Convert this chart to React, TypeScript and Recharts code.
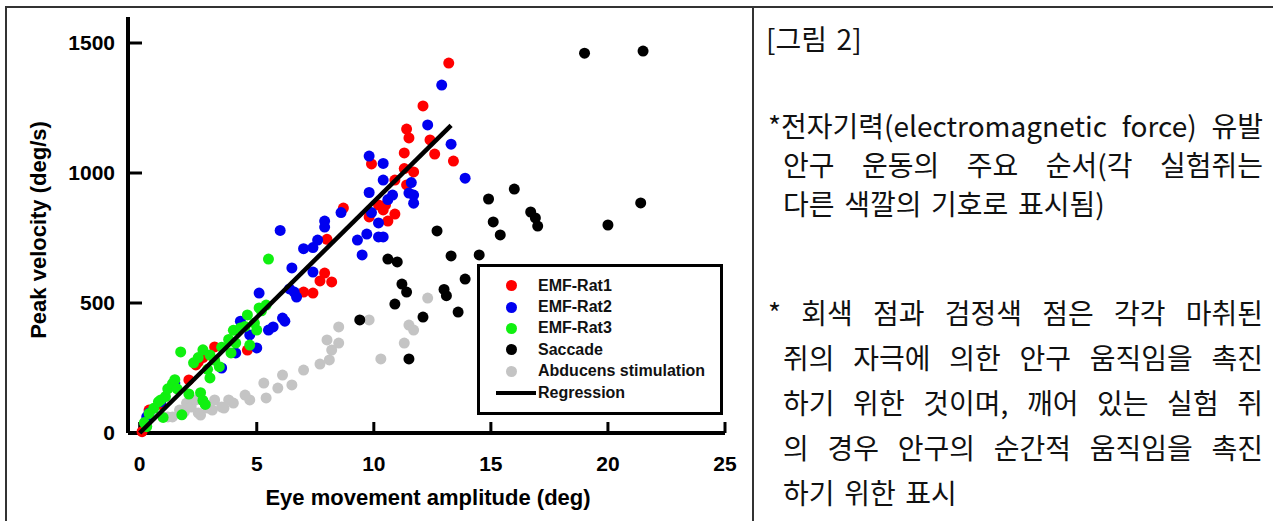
import React from "react";
import { ScatterChart, Scatter, XAxis, YAxis, Legend } from "recharts";

type Pt = { x: number; y: number };
const toPts = (rows: number[][]): Pt[] => rows.map(([x, y]) => ({ x, y }));

// values: [amplitude (deg), peak velocity (deg/s)]
const rat1 = toPts([
  [0.1, 5], [0.4, 88], [0.9, 110], [2.1, 204], [2.4, 262], [2.5, 273], [2.7, 290], [3.2, 331],
  [4.6, 319], [7.0, 542], [7.4, 538], [7.7, 585], [7.9, 615], [8.2, 581], [8.0, 745], [8.7, 865],
  [9.8, 831], [9.9, 1035], [10.2, 877], [10.4, 858], [10.5, 877], [10.6, 815], [10.9, 842],
  [10.9, 973], [11.3, 1077], [11.4, 1169], [11.3, 1017], [11.5, 1135], [11.4, 954], [11.7, 1004],
  [12.1, 1258], [12.4, 1127], [12.6, 1073], [13.2, 1423], [13.4, 1046],
]);

const rat2 = toPts([
  [0.3, 62], [0.4, 77], [0.9, 120], [1.5, 192], [3.5, 250], [4.1, 308], [4.3, 430], [4.7, 377],
  [5.0, 327], [5.1, 538], [5.5, 396], [5.7, 408], [6.1, 442], [6.2, 430], [6.4, 554], [6.5, 635],
  [6.6, 542], [6.7, 523], [6.0, 779], [7.0, 709], [7.4, 713], [7.4, 619], [7.6, 742], [7.9, 815],
  [7.9, 792], [8.6, 848], [9.3, 742], [9.5, 685], [9.7, 765], [9.8, 925], [9.8, 1065], [9.9, 848],
  [10.2, 754], [10.2, 808], [10.4, 754], [10.4, 1037], [10.4, 973], [10.6, 898], [10.8, 915],
  [11.6, 963], [11.5, 923], [11.7, 915], [11.7, 884], [12.3, 1185], [12.9, 1338], [13.3, 1111],
  [13.9, 980],
]);

const rat3 = toPts([
  [0.2, 40], [0.3, 25], [0.4, 75], [0.6, 95], [0.8, 120], [0.9, 127], [1.0, 60], [1.1, 140],
  [1.2, 170], [1.4, 190], [1.5, 205], [1.6, 170], [1.75, 312], [1.8, 70], [2.1, 150], [2.3, 270],
  [2.5, 290], [2.6, 155], [2.7, 125], [2.7, 320], [2.8, 110], [2.9, 245], [3.0, 212], [3.0, 300],
  [3.2, 280], [3.4, 255], [3.5, 330], [3.8, 360], [3.9, 308], [4.0, 395], [4.1, 346], [4.3, 404],
  [4.5, 410], [4.6, 454], [4.7, 338], [4.9, 423], [5.0, 396], [5.1, 481], [5.2, 470], [5.4, 492],
  [5.5, 669],
]);

const saccade = toPts([
  [9.4, 435], [10.6, 669], [11.0, 658], [11.2, 573], [11.4, 542], [10.9, 496], [11.5, 285],
  [12.1, 446], [12.7, 777], [13.0, 552], [13.1, 528], [13.3, 681], [13.6, 465], [13.9, 592],
  [14.5, 685], [14.9, 900], [15.1, 812], [15.4, 762], [16.0, 938], [16.7, 850], [16.9, 827],
  [17.0, 796], [19.0, 1461], [20.0, 800], [21.4, 885], [21.5, 1469],
]);

const abducens = toPts([
  [1.2, 62], [1.4, 62], [1.7, 88], [1.9, 80], [2.0, 115], [2.2, 100], [2.4, 127], [2.5, 77],
  [2.6, 69], [2.9, 96], [3.1, 88], [3.2, 127], [3.5, 100], [3.6, 96], [3.8, 127], [4.0, 115],
  [4.5, 146], [4.7, 127], [5.3, 192], [5.4, 135], [5.9, 173], [6.1, 223], [6.5, 185], [7.0, 242],
  [7.7, 265], [8.1, 281], [8.2, 319], [8.0, 358], [8.5, 346], [8.5, 408], [9.8, 435], [10.3, 285],
  [11.3, 346], [11.5, 415], [11.7, 396], [12.3, 519],
]);

const regression = toPts([
  [0, 0], [13.3, 1183],
]);

const seriesNames = ["EMF-Rat1", "EMF-Rat2", "EMF-Rat3", "Saccade", "Abducens stimulation", "Regression"];
const xTicks = [0, 5, 10, 15, 20, 25];
const yTicks = [0, 500, 1000, 1500];
const xTitle = "Eye movement amplitude (deg)";
const yTitle = "Peak velocity (deg/s)";

const captionTitle = "[그림 2]";
const captionPara1 = [
  "*전자기력(electromagnetic force) 유발",
  "안구 운동의 주요 순서(각 실험쥐는",
  "다른 색깔의 기호로 표시됨)",
];
const captionPara2 = [
  "* 회색 점과 검정색 점은 각각 마취된",
  "쥐의 자극에 의한 안구 움직임을 촉진",
  "하기 위한 것이며, 깨어 있는 실험 쥐",
  "의 경우 안구의 순간적 움직임을 촉진",
  "하기 위한 표시",
];

const colors = ["#ff0000", "#0000f0", "#10f010", "#000000", "#c4c4c4", "#000000"];
const FONT = "'Liberation Sans', Arial, Helvetica, sans-serif";
const KFONT = "'Noto Sans CJK KR', 'Noto Sans', sans-serif";

const dot = (color: string) => (p: any) => <circle cx={p.cx} cy={p.cy} r={5.5} fill={color} />;

const tickStyle = { fill: "#000", fontSize: 21, fontWeight: 700, fontFamily: FONT };

function XTitle() {
  return (
    <text x={428} y={505} textAnchor="middle" fontSize={22} fontWeight={700} fontFamily={FONT} fill="#000">
      {xTitle}
    </text>
  );
}

function YTitle() {
  return (
    <text
      x={46}
      y={230}
      transform="rotate(-90 46 230)"
      textAnchor="middle"
      fontSize={22}
      fontWeight={700}
      fontFamily={FONT}
      fill="#000"
    >
      {yTitle}
    </text>
  );
}

function LegendBox() {
  return (
    <div
      style={{
        width: 246,
        height: 151,
        boxSizing: "border-box",
        border: "3.5px solid #000",
        paddingTop: 8,
        background: "#fff",
      }}
    >
      {seriesNames.map((name, i) => (
        <div key={name} style={{ display: "flex", alignItems: "center", height: 21.4 }}>
          <div style={{ width: 54, display: "flex", justifyContent: "center", paddingLeft: 4 }}>
            {i < 5 ? (
              <div style={{ width: 11, height: 11, borderRadius: "50%", background: colors[i] }} />
            ) : (
              <div style={{ width: 40, height: 4, background: "#000", marginLeft: 10 }} />
            )}
          </div>
          <span style={{ fontFamily: FONT, fontWeight: 700, fontSize: 16, color: "#111" }}>{name}</span>
        </div>
      ))}
    </div>
  );
}

function Caption() {
  const line = (text: string, left: number, center: number, justify: boolean) => (
    <div
      key={text}
      style={{
        position: "absolute",
        left,
        top: center - 16,
        width: 1263 - left,
        height: 32,
        lineHeight: "32px",
        whiteSpace: "nowrap",
        fontFamily: KFONT,
        fontSize: 28,
        color: "#111",
        wordSpacing: "0.12em",
        textAlign: justify ? "justify" : "left",
        textAlignLast: justify ? "justify" : "left",
      }}
    >
      {text}
    </div>
  );
  return (
    <>
      {line(captionTitle, 766, 38, false)}
      {captionPara1.map((t, i) => line(t, i === 0 ? 768 : 783, 125 + i * 39, i < captionPara1.length - 1))}
      {captionPara2.map((t, i) => line(t, i === 0 ? 768 : 783, 312 + i * 45, i < captionPara2.length - 1))}
    </>
  );
}

export default function App() {
  return (
    <div style={{ position: "fixed", left: 0, top: 0, width: 1273, height: 521, background: "#fff", overflow: "hidden" }}>
      <div style={{ position: "absolute", left: 5, top: 6, width: 1268, height: 2, background: "#333" }} />
      <div style={{ position: "absolute", left: 5, top: 6, width: 2, height: 515, background: "#333" }} />
      <div style={{ position: "absolute", left: 752, top: 6, width: 2, height: 515, background: "#333" }} />
      <div style={{ position: "absolute", left: 0, top: 0 }}>
        <ScatterChart width={760} height={521} margin={{ top: 17, right: 35, bottom: 28, left: 58 }}>
          <XAxis
            dataKey="x"
            type="number"
            domain={[-0.5, 25]}
            ticks={xTicks}
            interval={0}
            height={60}
            tickSize={-11}
            tickMargin={34}
            axisLine={{ stroke: "#000", strokeWidth: 4 }}
            tickLine={{ stroke: "#000", strokeWidth: 3 }}
            tick={tickStyle}
            label={<XTitle />}
          />
          <YAxis
            dataKey="y"
            type="number"
            domain={[0, 1600]}
            ticks={yTicks}
            interval={0}
            width={70}
            tickSize={-14}
            tickMargin={27}
            axisLine={{ stroke: "#000", strokeWidth: 4 }}
            tickLine={{ stroke: "#000", strokeWidth: 3 }}
            tick={tickStyle}
            label={<YTitle />}
          />
          <Scatter name={seriesNames[4]} data={abducens} shape={dot(colors[4])} isAnimationActive={false} />
          <Scatter name={seriesNames[3]} data={saccade} shape={dot(colors[3])} isAnimationActive={false} />
          <Scatter name={seriesNames[0]} data={rat1} shape={dot(colors[0])} isAnimationActive={false} />
          <Scatter name={seriesNames[1]} data={rat2} shape={dot(colors[1])} isAnimationActive={false} />
          <Scatter name={seriesNames[2]} data={rat3} shape={dot(colors[2])} isAnimationActive={false} />
          <Scatter
            name={seriesNames[5]}
            data={regression}
            line={{ stroke: "#000", strokeWidth: 4.5 }}
            shape={() => <g />}
            isAnimationActive={false}
          />
          <Legend
            layout="vertical"
            align="center"
            verticalAlign="middle"
            content={<LegendBox />}
            wrapperStyle={{ left: 477, top: 264, width: 246, height: 151 }}
          />
        </ScatterChart>
      </div>
      <Caption />
    </div>
  );
}
